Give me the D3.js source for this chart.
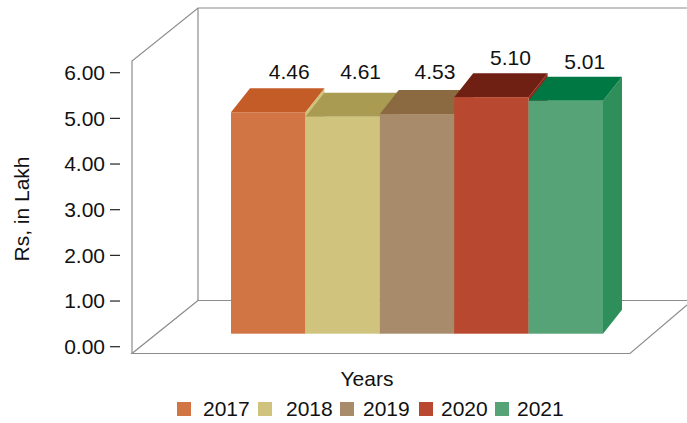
<!DOCTYPE html>
<html>
<head>
<meta charset="utf-8">
<script src="https://d3js.org/d3.v7.min.js"></script>
<style>
  html, body { margin: 0; padding: 0; background: #fff; }
  svg { display: block; }
  text { font-family: "Liberation Sans", Arial, sans-serif; fill: #111; font-size: 21px; }
</style>
</head>
<body>
<div id="chart"></div>
<script>
const YEARS = ["2017", "2018", "2019", "2020", "2021"];
// bar heights as read against the axis; the printed labels don't agree with them in the source
const BAR_HEIGHTS = [4.85, 4.75, 4.81, 5.18, 5.10];
const BAR_LABELS = ["4.46", "4.61", "4.53", "5.10", "5.01"];
const TICKS = [0, 1, 2, 3, 4, 5, 6];
const FRONT_COLORS = ["#D27545", "#CFC37D", "#A88B6B", "#B8482F", "#55A377"];
const TOP_COLORS = ["#C45C27", "#A99B51", "#8B6A42", "#701F13", "#007843"];
const SIDE_COLORS = ["#CFC37D", "#8B6A42", "#8B6A42", "#8F2A1B", "#2F8F5B"];

const width = 687, height = 423;
const margin = { left: 132, right: 630, base: 346.7, top: 72.7 };
const depth = { x: 66, y: -53 };
const barDepth = { x: 19, y: -24 };
const barBase = 333.7;
const labelDx = [21, 18, 18, 19, 19];
const labelDy = [-9, -13.7, -11, -8, -8];

const svg = d3.select("#chart").append("svg")
  .attr("width", width)
  .attr("height", height);

const y = d3.scaleLinear().domain([0, 6]).range([margin.base, margin.top]);
const x = d3.scaleBand().domain(YEARS).range([231, 603]);
const barH = (v) => y(0) - y(v);

// Back wall, side wall and floor
const wallTop = 8, floorFront = 353.5, floorBack = floorFront + depth.y;
const grey = "#8c8c8c";
const frame = svg.append("g").attr("fill", "none").attr("stroke", grey).attr("stroke-width", 1.2);
frame.append("path").attr("d", `M${margin.left},${floorFront}V61L${margin.left + depth.x},${wallTop}H${width}`);
frame.append("path").attr("d", `M${margin.left + depth.x},${wallTop}V${floorBack}H${width}`);
frame.append("path").attr("d", `M${margin.left + depth.x},${floorBack}L${margin.left},${floorFront}H${margin.right}L${width},305`);

// Y axis ticks and labels
svg.selectAll(".tick-mark")
  .data(TICKS)
  .join("line")
  .attr("class", "tick-mark")
  .attr("x1", 110).attr("x2", 120)
  .attr("y1", (d) => y(d)).attr("y2", (d) => y(d))
  .attr("stroke", "#222").attr("stroke-width", 1.2);

svg.selectAll(".tick-label")
  .data(TICKS)
  .join("text")
  .attr("class", "tick-label")
  .attr("x", 105)
  .attr("y", (d) => y(d))
  .attr("dy", "0.35em")
  .attr("text-anchor", "end")
  .text((d) => d3.format(".2f")(d));

svg.append("text")
  .attr("transform", "translate(29,209) rotate(-90)")
  .attr("text-anchor", "middle")
  .text("Rs, in Lakh");

// Bars, left to right so each one overlaps the previous side face
const bars = svg.selectAll(".bar")
  .data(BAR_HEIGHTS)
  .join("g")
  .attr("class", "bar");

const xAt = (i) => x(YEARS[i]);
const barTop = (d) => barBase - barH(d);

bars.append("path")
  .attr("fill", (d, i) => SIDE_COLORS[i])
  .attr("d", (d, i) => {
    const r = xAt(i) + x.bandwidth();
    return `M${r},${barBase}L${r + barDepth.x},${barBase + barDepth.y}V${barTop(d) + barDepth.y}L${r},${barTop(d)}Z`;
  });

bars.append("path")
  .attr("fill", (d, i) => TOP_COLORS[i])
  .attr("d", (d, i) => {
    const l = xAt(i), r = l + x.bandwidth();
    return `M${l},${barTop(d)}L${l + barDepth.x},${barTop(d) + barDepth.y}H${r + barDepth.x}L${r},${barTop(d)}Z`;
  });

bars.append("rect")
  .attr("fill", (d, i) => FRONT_COLORS[i])
  .attr("x", (d, i) => xAt(i))
  .attr("y", (d) => barTop(d))
  .attr("width", x.bandwidth())
  .attr("height", (d) => barH(d));

bars.append("text")
  .attr("x", (d, i) => xAt(i) + x.bandwidth() / 2 + labelDx[i])
  .attr("y", (d, i) => barTop(d) + barDepth.y + labelDy[i])
  .attr("text-anchor", "middle")
  .text((d, i) => BAR_LABELS[i]);

// X axis title and legend
svg.append("text")
  .attr("x", 367).attr("y", 386)
  .attr("text-anchor", "middle")
  .text("Years");

const legendSwatchX = [177, 258, 340, 419, 495];
const legendTextDx = [26, 28, 23, 22, 22];
const legend = svg.selectAll(".legend")
  .data(YEARS)
  .join("g")
  .attr("class", "legend")
  .attr("transform", (d, i) => `translate(${legendSwatchX[i]},402)`);
legend.append("rect")
  .attr("width", 14).attr("height", 14)
  .attr("fill", (d, i) => FRONT_COLORS[i]);
legend.append("text")
  .attr("x", (d, i) => legendTextDx[i])
  .attr("y", 14)
  .text((d) => d);
</script>
</body>
</html>
